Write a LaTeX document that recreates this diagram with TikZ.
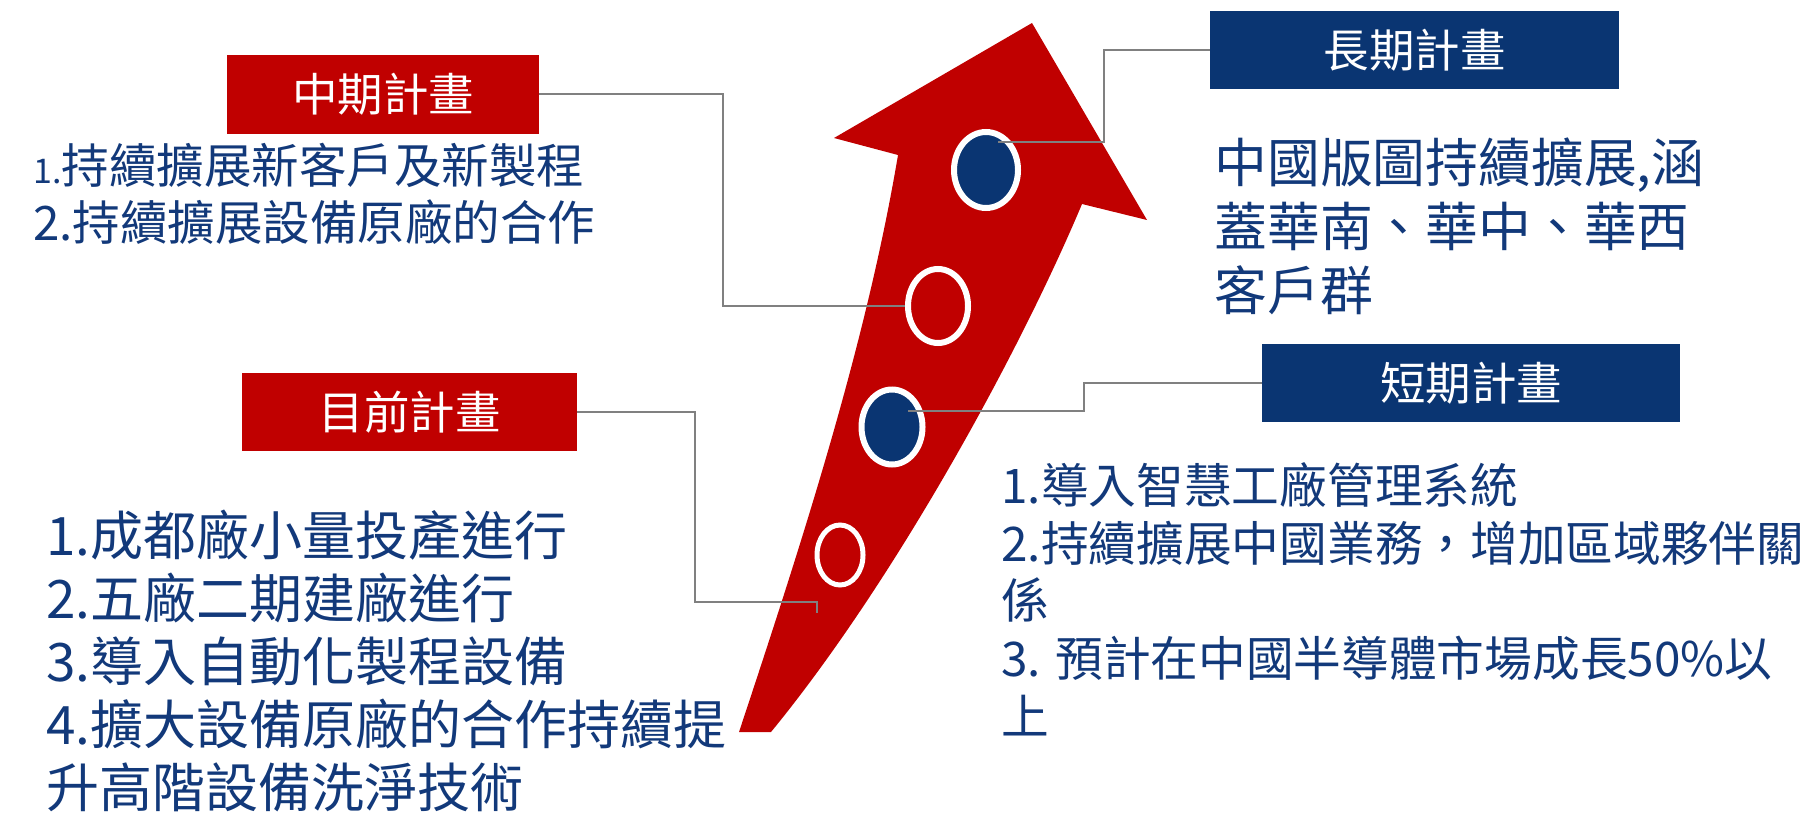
\documentclass[tikz,border=0pt]{standalone}
\usepackage{fontspec}
\setmainfont{Noto Sans CJK TC}
\usetikzlibrary{shapes.geometric}
\definecolor{planred}{HTML}{C00000}
\definecolor{planblue}{HTML}{0A3572}
\definecolor{plantext}{HTML}{12397A}
\definecolor{linkgray}{HTML}{808080}

\begin{document}
\begin{tikzpicture}[x=0.5pt,y=-0.5pt,
        redbox/.style={fill=planred,text=white,inner sep=0pt,minimum height=39pt,font=\fontsize{22.75pt}{27pt}\selectfont},
        bluebox/.style={fill=planblue,text=white,inner sep=0pt,minimum height=39pt,font=\fontsize{22.75pt}{27pt}\selectfont},
        spot/.style={ellipse,draw=white,line width=3pt,inner sep=0pt},
        link/.style={draw=linkgray,line width=1pt},
        plantxt/.style={anchor=north west,align=left,inner sep=0pt,text=plantext}]
        \useasboundingbox (0,0) rectangle (1807,813);

        \fill [planred] (739,732) .. controls (802,542) and (866,345) .. (898,155) -- (834,138) -- (1032,23)
                -- (1147,220) -- (1082,204) .. controls (1019,354) and (894,582) .. (771,732) -- cycle;

        \node [spot,fill=planblue,minimum width=32pt,minimum height=38pt] (c1) at (986,170) {};
        \node [spot,fill=planred,minimum width=30pt,minimum height=37pt] (c2) at (938,306) {};
        \node [spot,fill=planblue,minimum width=30.5pt,minimum height=37.5pt] (c3) at (892,427) {};
        \node [spot,fill=planred,line width=2.5pt,minimum width=23pt,minimum height=30pt] (c4) at (840,555) {};

        \node [redbox,minimum width=156pt] (mid) at (383,94.5) {中期計畫};
        \node [bluebox,minimum width=204.5pt] (long) at (1414.5,50) {長期計畫};
        \node [bluebox,minimum width=209pt] (short) at (1471,383) {短期計畫};
        \node [redbox,minimum width=167.5pt] (now) at (409.5,412) {目前計畫};

        \coordinate (c1p) at (998,142);
        \coordinate (c3p) at (908,411);
        \coordinate (nowend) at (817,613);
        \draw [link] (long.west) -- ++(-106,0) |- (c1p);
        \draw [link] (mid.east) -- ++(184,0) |- (c2.west);
        \draw [link] (short.west) -- ++(-178,0) |- (c3p);
        \draw [link] (now.east) -- ++(118,0) -- ++(0,190) -| (nowend);

        \node [plantxt,font=\fontsize{23.75pt}{28.5pt}\selectfont] (midtxt) at (33,143)
                {{\fontsize{17pt}{17pt}\selectfont 1.}持續擴展新客戶及新製程\\2.持續擴展設備原廠的合作};
        \node [plantxt,font=\fontsize{26.4pt}{32pt}\selectfont] (longtxt) at (1214,137)
                {中國版圖持續擴展,涵\\蓋華南、華中、華西\\客戶群};
        \node [plantxt,font=\fontsize{23.85pt}{28.9pt}\selectfont] (shorttxt) at (1001,462)
                {1.導入智慧工廠管理系統\\2.持續擴展中國業務，增加區域夥伴關\\係\\3. 預計在中國半導體市場成長50\%以\\上};
        \node [plantxt,font=\fontsize{26.5pt}{31.4pt}\selectfont] (nowtxt) at (46,510)
                {1.成都廠小量投產進行\\2.五廠二期建廠進行\\3.導入自動化製程設備\\4.擴大設備原廠的合作持續提\\升高階設備洗淨技術};
\end{tikzpicture}
\end{document}
